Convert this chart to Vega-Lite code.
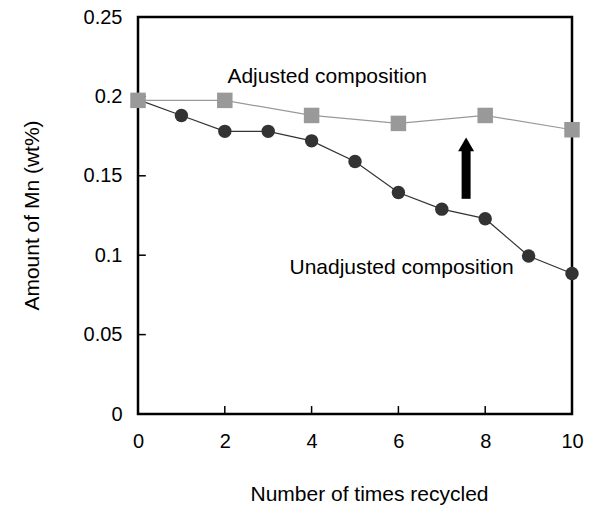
{
  "$schema": "https://vega.github.io/schema/vega-lite/v6.json",
  "width": 434,
  "height": 397,
  "autosize": "none",
  "padding": {"left": 138, "top": 17, "right": 19, "bottom": 99},
  "background": "white",
  "config": {
    "font": "Liberation Sans",
    "view": {"stroke": "black", "strokeWidth": 2.5},
    "axis": {"grid": false, "domain": false, "ticks": false, "labelColor": "black", "titleColor": "black", "labelFont": "Liberation Sans", "titleFont": "Liberation Sans", "titleFontWeight": "normal", "labelFontSize": 20, "titleFontSize": 21, "labelFlush": false}
  },
  "datasets": {
    "series": [
      {"n": 0, "mn": 0.198, "series": "Unadjusted"},
      {"n": 1, "mn": 0.188, "series": "Unadjusted"},
      {"n": 2, "mn": 0.178, "series": "Unadjusted"},
      {"n": 3, "mn": 0.178, "series": "Unadjusted"},
      {"n": 4, "mn": 0.172, "series": "Unadjusted"},
      {"n": 5, "mn": 0.159, "series": "Unadjusted"},
      {"n": 6, "mn": 0.1395, "series": "Unadjusted"},
      {"n": 7, "mn": 0.129, "series": "Unadjusted"},
      {"n": 8, "mn": 0.123, "series": "Unadjusted"},
      {"n": 9, "mn": 0.0995, "series": "Unadjusted"},
      {"n": 10, "mn": 0.0885, "series": "Unadjusted"},
      {"n": 0, "mn": 0.1975, "series": "Adjusted"},
      {"n": 2, "mn": 0.1975, "series": "Adjusted"},
      {"n": 4, "mn": 0.188, "series": "Adjusted"},
      {"n": 6, "mn": 0.183, "series": "Adjusted"},
      {"n": 8, "mn": 0.188, "series": "Adjusted"},
      {"n": 10, "mn": 0.179, "series": "Adjusted"}
    ],
    "labels": [
      {"n": 2.06, "mn": 0.2082, "text": "Adjusted composition"},
      {"n": 3.49, "mn": 0.0881, "text": "Unadjusted composition"}
    ],
    "arrow": [
      {"n": 7.56, "from": 0.1355, "to": 0.166, "head": 0.1698}
    ],
    "xticks": [{"v": 2}, {"v": 4}, {"v": 6}, {"v": 8}],
    "yticks": [{"v": 0.05}, {"v": 0.1}, {"v": 0.15}, {"v": 0.2}]
  },
  "layer": [
    {
      "data": {"name": "series"},
      "mark": {"type": "line", "strokeWidth": 1.2, "clip": false},
      "encoding": {
        "x": {"field": "n", "type": "quantitative", "scale": {"domain": [0, 10], "nice": false},
          "axis": {"values": [0, 2, 4, 6, 8, 10], "title": "Number of times recycled", "labelPadding": 17, "titleX": 231, "titleY": 80, "titleBaseline": "middle", "titleAlign": "center"}},
        "y": {"field": "mn", "type": "quantitative", "scale": {"domain": [0, 0.25], "nice": false},
          "axis": {"values": [0, 0.05, 0.1, 0.15, 0.2, 0.25], "format": "~g", "title": "Amount of Mn (wt%)", "labelPadding": 16, "titleX": -106, "titleY": 198, "titleAngle": -90, "titleBaseline": "middle", "titleAlign": "center"}},
        "color": {"field": "series", "type": "nominal", "scale": {"domain": ["Unadjusted", "Adjusted"], "range": ["#333333", "#999999"]}, "legend": null},
        "detail": {"field": "series"}
      }
    },
    {
      "data": {"name": "xticks"},
      "mark": {"type": "rule", "color": "black", "strokeWidth": 1.5},
      "encoding": {
        "x": {"field": "v", "type": "quantitative"},
        "y": {"datum": 0, "type": "quantitative"},
        "y2": {"datum": 0.005}
      }
    },
    {
      "data": {"name": "yticks"},
      "mark": {"type": "rule", "color": "black", "strokeWidth": 1.5},
      "encoding": {
        "x": {"datum": 0, "type": "quantitative"},
        "x2": {"datum": 0.18},
        "y": {"field": "v", "type": "quantitative"}
      }
    },
    {
      "data": {"name": "series"},
      "mark": {"type": "point", "filled": true, "opacity": 1, "clip": false},
      "encoding": {
        "x": {"field": "n", "type": "quantitative"},
        "y": {"field": "mn", "type": "quantitative"},
        "color": {"field": "series", "type": "nominal", "legend": null},
        "shape": {"field": "series", "type": "nominal", "scale": {"domain": ["Unadjusted", "Adjusted"], "range": ["circle", "square"]}, "legend": null},
        "size": {"field": "series", "type": "nominal", "scale": {"domain": ["Unadjusted", "Adjusted"], "range": [180, 240]}, "legend": null}
      }
    },
    {
      "data": {"name": "labels"},
      "mark": {"type": "text", "align": "left", "baseline": "alphabetic", "fontSize": 21, "font": "Liberation Sans", "color": "black"},
      "encoding": {
        "x": {"field": "n", "type": "quantitative"},
        "y": {"field": "mn", "type": "quantitative"},
        "text": {"field": "text"}
      }
    },
    {
      "data": {"name": "arrow"},
      "mark": {"type": "rule", "strokeWidth": 9, "color": "black"},
      "encoding": {
        "x": {"field": "n", "type": "quantitative"},
        "y": {"field": "from", "type": "quantitative"},
        "y2": {"field": "to"}
      }
    },
    {
      "data": {"name": "arrow"},
      "mark": {"type": "point", "shape": "triangle-up", "filled": true, "opacity": 1, "color": "black", "size": 256},
      "encoding": {
        "x": {"field": "n", "type": "quantitative"},
        "y": {"field": "head", "type": "quantitative"}
      }
    }
  ]
}
